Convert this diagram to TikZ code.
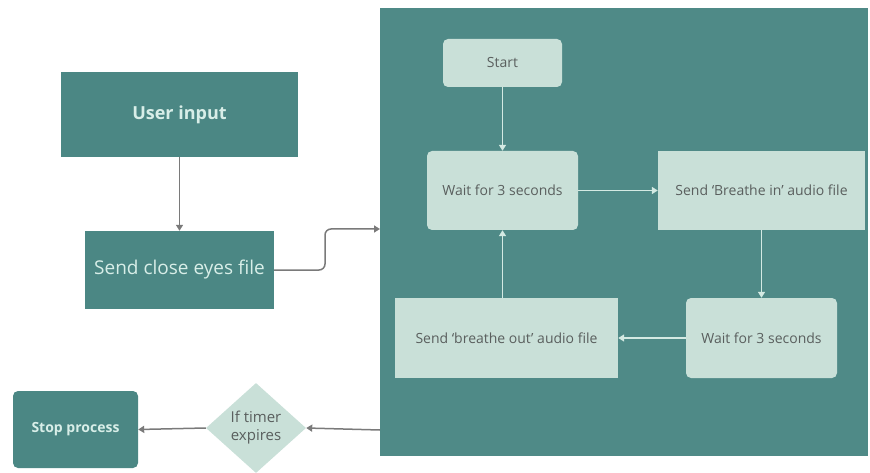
\documentclass[tikz,border=0pt]{standalone}
\usepackage{fontspec}
\setmainfont{Open Sans}
\usetikzlibrary{arrows.meta,shapes.geometric}
\definecolor{tealbg}{HTML}{4F8A87}
\definecolor{tealbox}{HTML}{4B8784}
\definecolor{lightbox}{HTML}{C9E0D8}
\definecolor{lighttxt}{HTML}{D8EEE8}
\definecolor{darktxt}{HTML}{5A5F5E}
\definecolor{greyline}{HTML}{7A7A7A}
\definecolor{lightline}{HTML}{D4EAE3}
\tikzset{
  lbox/.style={fill=lightbox, draw=none, text=darktxt, font=\fontsize{14}{16}\selectfont, inner sep=0},
  dbox/.style={fill=tealbox, draw=none, text=lighttxt, inner sep=0},
  garrow/.style={draw=greyline, line width=1.5pt, -{Triangle[width=7pt,length=6pt]}},
  larrow/.style={draw=lightline, line width=1.5pt, -{Triangle[width=7pt,length=6pt]}},
}
\begin{document}
\begin{tikzpicture}[x=1pt,y=-1pt]
\useasboundingbox (0,0) rectangle (870,473);
% container
\fill[tealbg] (380,8) rectangle (868,456);
\node[inner sep=0, minimum width=488pt, minimum height=448pt] (cont) at (624,232) {};
% inner nodes
\node[lbox, rounded corners=5pt, minimum width=119pt, minimum height=48pt] (start) at (502.5,63) {Start};
\node[lbox, rounded corners=5pt, minimum width=151pt, minimum height=79pt] (wait1) at (502.5,190.5) {Wait for 3 seconds};
\node[lbox, minimum width=207pt, minimum height=79pt] (bin) at (761.5,190.5) {Send `Breathe in' audio file};
\node[lbox, rounded corners=5pt, minimum width=151pt, minimum height=80pt] (wait2) at (761.5,338) {Wait for 3 seconds};
\node[lbox, minimum width=223pt, minimum height=80pt] (bout) at (506.5,338) {Send `breathe out' audio file};
\draw[larrow] (start.south) -- (wait1.south |- wait1.north);
\draw[larrow] (wait1.east) -- (bin.west);
\draw[larrow] (bin.south) -- (wait2.north);
\draw[larrow] (wait2.west) -- (bout.east);
\draw[larrow] (wait1.south |- bout.north) -- (wait1.south);
% left nodes
\node[dbox, minimum width=237pt, minimum height=85pt, font=\fontsize{18}{21}\selectfont\bfseries] (user) at (179.5,114.5) {User input};
\node[dbox, minimum width=189pt, minimum height=78pt, font=\fontsize{19}{22}\selectfont] (close) at (179.5,270) {Send close eyes file};
\draw[garrow] (user.south) -- (close.north);
\coordinate (cin) at (380,229);
\draw[garrow, rounded corners=6pt] (close.east) -- (325,270) -- (325,229) -- (cin);
% bottom
\node[draw=none, fill=lightbox, shape=diamond, inner sep=0, minimum width=100pt, minimum height=90pt, text=darktxt, align=center, font=\fontsize{15}{18}\selectfont] (timer) at (256,428) {If timer\\expires};
\node[dbox, rounded corners=5pt, minimum width=125pt, minimum height=77pt, font=\fontsize{14}{16}\selectfont\bfseries] (stop) at (75.5,429.5) {Stop process};
\coordinate (cout) at (380,430);
\draw[garrow] (cout) -- (timer.east);
\draw[garrow] (timer.west) -- (stop.east);
\end{tikzpicture}
\end{document}
